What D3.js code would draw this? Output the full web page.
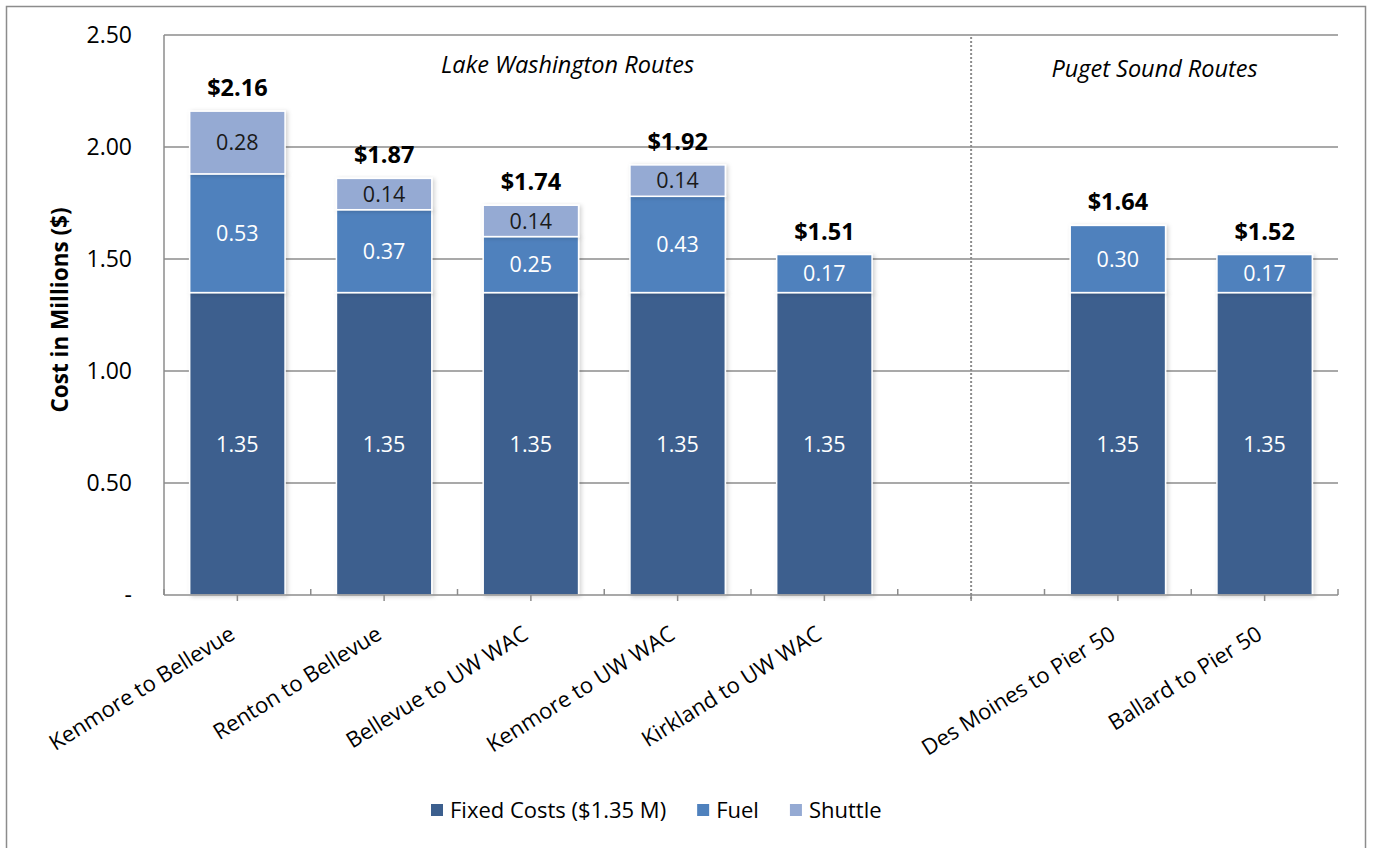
<!DOCTYPE html>
<html>
<head>
<meta charset="utf-8">
<script src="https://cdn.jsdelivr.net/npm/d3@7"></script>
<style>
  body { margin: 0; background: #fff; }
  svg { display: block; font-family: "Open Sans", sans-serif; }
</style>
</head>
<body>
<div id="chart-mount"></div>
<script>
var WIDTH = 1373;
var HEIGHT = 848;

// routes; the empty slot separates the two groups
var ROUTES = ['Kenmore to Bellevue', 'Renton to Bellevue', 'Bellevue to UW WAC',
  'Kenmore to UW WAC', 'Kirkland to UW WAC', '', 'Des Moines to Pier 50', 'Ballard to Pier 50'];
var FIXED = [1.35, 1.35, 1.35, 1.35, 1.35, 0, 1.35, 1.35];
var FUEL = [0.53, 0.37, 0.25, 0.43, 0.17, 0, 0.30, 0.17];
var SHUTTLE = [0.28, 0.14, 0.14, 0.14, 0, 0, 0, 0];
var TOTALS = ['$2.16', '$1.87', '$1.74', '$1.92', '$1.51', '', '$1.64', '$1.52'];
var Y_TICKS = [0, 0.5, 1, 1.5, 2, 2.5];
var SERIES = ['Fixed Costs ($1.35 M)', 'Fuel', 'Shuttle'];
var COLORS = ['#3c5f8e', '#4f81bd', '#95aad3'];
// panels run from one plot edge / separator slot to the next
var GROUPS = [
  { label: 'Lake Washington Routes', from: 0, to: 5, y: 65 },
  { label: 'Puget Sound Routes', from: 5, to: 8, y: 69 }
];

var margin = { top: 35, right: 35, bottom: 253, left: 164 };

var $svg = d3.select('#chart-mount').append('svg')
  .attr('width', WIDTH)
  .attr('height', HEIGHT);

var defs = $svg.append('defs');
defs.append('filter')
    .attr('id', 'shadow')
    .attr('x', '-10%').attr('y', '-10%')
    .attr('width', '130%').attr('height', '130%')
  .append('feDropShadow')
    .attr('dx', 2).attr('dy', 1)
    .attr('stdDeviation', 2)
    .attr('flood-color', '#000')
    .attr('flood-opacity', 0.18);

// outer frame
$svg.append('rect')
  .attr('x', 6.5).attr('y', 6.5)
  .attr('width', 1359).attr('height', 860)
  .attr('fill', 'none')
  .attr('stroke', '#8c8c8c')
  .attr('stroke-width', 1.5);

var x = d3.scaleBand()
  .domain(d3.range(ROUTES.length))
  .range([margin.left, WIDTH - margin.right])
  .paddingInner(0.35)
  .paddingOuter(0.175);

var y = d3.scaleLinear()
  .domain([0, 2.5])
  .range([HEIGHT - margin.bottom, margin.top]);

var slot = x.step();
var x0 = margin.left, x1 = WIDTH - margin.right;
var yBase = y(0);

function slotCenter (i) {
  return x0 + (i + 0.5) * slot;
}

// gridlines
$svg.append('g')
  .selectAll('line')
  .data(Y_TICKS.slice(1))
  .enter()
    .append('line')
    .attr('x1', x0).attr('x2', x1)
    .attr('y1', function (d) { return y(d); })
    .attr('y2', function (d) { return y(d); })
    .attr('stroke', '#8c8c8c')
    .attr('stroke-width', 1.5);

// y axis line
$svg.append('line')
  .attr('x1', x0).attr('x2', x0)
  .attr('y1', y(2.5)).attr('y2', yBase)
  .attr('stroke', '#8c8c8c')
  .attr('stroke-width', 1.5);

// y tick labels
$svg.append('g')
  .selectAll('text')
  .data(Y_TICKS)
  .enter()
    .append('text')
    .attr('x', 132)
    .attr('y', function (d) { return y(d); })
    .attr('dy', '0.36em')
    .attr('text-anchor', 'end')
    .attr('font-size', 23)
    .attr('fill', '#000')
    .text(function (d) { return d === 0 ? '-' : d3.format('.2f')(d); });

// y axis title
$svg.append('text')
  .attr('transform', 'translate(60,310) rotate(-90)')
  .attr('text-anchor', 'middle')
  .attr('dy', '0.36em')
  .attr('font-size', 22.5)
  .attr('font-weight', 'bold')
  .text('Cost in Millions ($)');

// stacked bars
var rows = ROUTES.map(function (r, i) {
  return { i: i, fixed: FIXED[i], fuel: FUEL[i], shuttle: SHUTTLE[i] };
});
var stack = d3.stack().keys(['fixed', 'fuel', 'shuttle'])(rows);

var layers = $svg.append('g')
  .selectAll('g')
  .data(stack)
  .enter()
    .append('g')
    .attr('fill', function (d, k) { return COLORS[k]; });

layers.selectAll('rect')
  .data(function (d) { return d.filter(function (p) { return p[1] - p[0] > 0; }); })
  .enter()
    .append('rect')
    .attr('x', function (d) { return x(d.data.i); })
    .attr('width', x.bandwidth())
    .attr('y', function (d) { return y(d[1]); })
    .attr('height', function (d) { return y(d[0]) - y(d[1]); })
    .attr('stroke', '#fff')
    .attr('stroke-width', 1.5)
    .attr('filter', 'url(#shadow)');

layers.selectAll('text')
  .data(function (d) { return d.filter(function (p) { return p[1] - p[0] > 0; }); })
  .enter()
    .append('text')
    .attr('x', function (d) { return x(d.data.i) + x.bandwidth() / 2; })
    .attr('y', function (d) { return (y(d[0]) + y(d[1])) / 2; })
    .attr('dy', '0.36em')
    .attr('text-anchor', 'middle')
    .attr('font-size', 21.5)
    .attr('fill', function () {
      return this.parentNode.__data__.key === 'shuttle' ? '#1a1a1a' : '#fff';
    })
    .text(function (d) { return d3.format('.2f')(d[1] - d[0]); });

// totals
$svg.append('g')
  .selectAll('text')
  .data(rows)
  .enter()
    .append('text')
    .attr('x', function (d) { return x(d.i) + x.bandwidth() / 2; })
    .attr('y', function (d) { return y(d.fixed + d.fuel + d.shuttle) - 15; })
    .attr('text-anchor', 'middle')
    .attr('font-size', 23.5)
    .attr('font-weight', 'bold')
    .text(function (d) { return TOTALS[d.i]; });

// x axis line and ticks
$svg.append('line')
  .attr('x1', x0).attr('x2', x1)
  .attr('y1', yBase).attr('y2', yBase)
  .attr('stroke', '#8c8c8c')
  .attr('stroke-width', 1.5);

var ticks = $svg.append('g').attr('stroke', '#8c8c8c').attr('stroke-width', 1.5);
d3.range(ROUTES.length + 1).forEach(function (i) {
  var bx = x0 + i * slot;
  ticks.append('line')
    .attr('x1', bx).attr('x2', bx)
    .attr('y1', yBase).attr('y2', yBase - 6);
});
d3.range(ROUTES.length).forEach(function (i) {
  var cx = slotCenter(i);
  ticks.append('line')
    .attr('x1', cx).attr('x2', cx)
    .attr('y1', yBase).attr('y2', yBase + 6);
});

// group separator
var sepX = slotCenter(5);
$svg.append('line')
  .attr('x1', sepX).attr('x2', sepX)
  .attr('y1', y(2.5) + 2).attr('y2', yBase + 4)
  .attr('stroke', '#8c8c8c')
  .attr('stroke-width', 2)
  .attr('stroke-dasharray', '2,2');

// group labels, centred on their panel
$svg.append('g')
  .selectAll('text')
  .data(GROUPS)
  .enter()
    .append('text')
    .attr('x', function (d) {
      var a = d.from === 0 ? x0 : slotCenter(d.from);
      var b = d.to === ROUTES.length ? x1 : slotCenter(d.to);
      return (a + b) / 2;
    })
    .attr('y', function (d) { return d.y; })
    .attr('dy', '0.36em')
    .attr('text-anchor', 'middle')
    .attr('font-size', 23.5)
    .attr('font-style', 'italic')
    .text(function (d) { return d.label; });

// category labels
$svg.append('g')
  .selectAll('text')
  .data(rows)
  .enter()
    .append('text')
    .attr('transform', function (d) {
      return 'translate(' + (slotCenter(d.i) - 1) + ',' + (yBase + 43) + ') rotate(-32)';
    })
    .attr('text-anchor', 'end')
    .attr('font-size', 22)
    .text(function (d) { return ROUTES[d.i]; });

// legend
var legend = $svg.append('g').attr('transform', 'translate(431,810)');
var lx = 0;
SERIES.forEach(function (s, k) {
  var item = legend.append('g').attr('transform', 'translate(' + lx + ',0)');
  item.append('rect')
    .attr('x', 0).attr('y', -6)
    .attr('width', 12).attr('height', 12)
    .attr('fill', COLORS[k]);
  var t = item.append('text')
    .attr('x', 19)
    .attr('dy', '0.36em')
    .attr('font-size', 22)
    .text(s);
  lx += 19 + t.node().getComputedTextLength() + 31;
});
</script>
</body>
</html>
